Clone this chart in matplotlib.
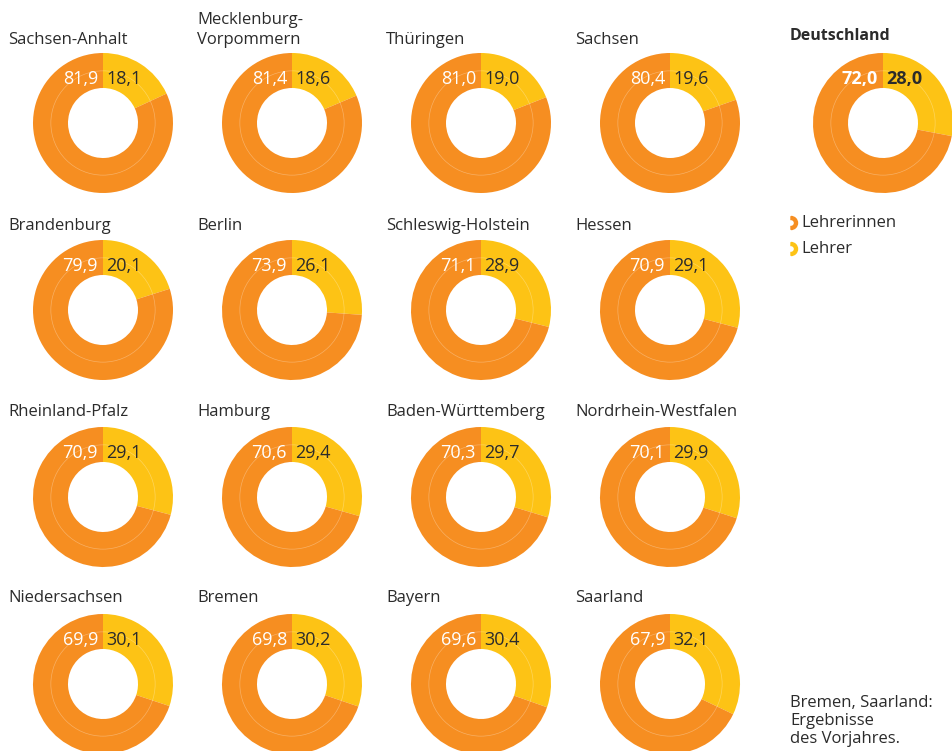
import matplotlib
matplotlib.use("Agg")
import matplotlib.pyplot as plt
from matplotlib.patches import Circle, Wedge

plt.rcParams['font.family'] = ['Open Sans', 'DejaVu Sans']

# Data
states = ["Sachsen-Anhalt", "Mecklenburg-\nVorpommern", "Thüringen", "Sachsen",
          "Brandenburg", "Berlin", "Schleswig-Holstein", "Hessen",
          "Rheinland-Pfalz", "Hamburg", "Baden-Württemberg", "Nordrhein-Westfalen",
          "Niedersachsen", "Bremen", "Bayern", "Saarland"]
lehrerinnen = [81.9, 81.4, 81.0, 80.4,
               79.9, 73.9, 71.1, 70.9,
               70.9, 70.6, 70.3, 70.1,
               69.9, 69.8, 69.6, 67.9]
lehrer = [18.1, 18.6, 19.0, 19.6,
          20.1, 26.1, 28.9, 29.1,
          29.1, 29.4, 29.7, 29.9,
          30.1, 30.2, 30.4, 32.1]
de_label = "Deutschland"
de_lehrerinnen = 72.0
de_lehrer = 28.0
legend_labels = ["Lehrerinnen", "Lehrer"]
note_lines = ["Bremen, Saarland:", "Ergebnisse", "des Vorjahres."]

ORANGE = "#F68E21"
YELLOW = "#FDC315"
DARK = "#2b2b2b"

W, H = 952, 751
fig = plt.figure(figsize=(W / 100, H / 100), dpi=100)
bg = fig.add_axes([0, 0, 1, 1])
bg.set_xlim(0, W)
bg.set_ylim(H, 0)
bg.axis('off')

R = 70  # outer radius in px


def fmt(v):
    return f"{v:.1f}".replace(".", ",")


def donut(cx, cy, a, b, bold=False):
    ax = fig.add_axes([(cx - R) / W, 1 - (cy + R) / H, 2 * R / W, 2 * R / H])
    ax.pie([b, a], colors=[YELLOW, ORANGE], startangle=90, counterclock=False,
           radius=1, wedgeprops=dict(width=0.5, edgecolor='none'))
    ax.add_patch(Circle((0, 0), 0.745, fill=False, edgecolor='white', lw=0.5, alpha=0.3))
    ax.set_xlim(-1, 1)
    ax.set_ylim(-1, 1)
    ax.set_aspect('equal')
    ax.axis('off')
    fw = 'bold' if bold else 'normal'
    ax.text(-0.07, 0.635, fmt(a), color='white', ha='right', va='center',
            fontsize=13, fontweight=fw)
    ax.text(0.05, 0.635, fmt(b), color=DARK, ha='left', va='center',
            fontsize=13, fontweight=fw)


col_cx = [103, 292, 481, 670]
row_cy = [123, 310, 497, 684]
title_x = [8, 197, 386, 575]
title_base = [44, 230, 416, 602]

for i, (s, a, b) in enumerate(zip(states, lehrerinnen, lehrer)):
    r, c = divmod(i, 4)
    donut(col_cx[c], row_cy[r], a, b)
    lines = s.split("\n")
    for k, ln in enumerate(lines):
        yb = title_base[r] - (len(lines) - 1 - k) * 20
        bg.text(title_x[c], yb, ln, ha='left', va='baseline',
                fontsize=12, color=DARK)

# Deutschland
donut(883, 123, de_lehrerinnen, de_lehrer, bold=True)
bg.text(790, 40, de_label, ha='left', va='baseline', fontsize=11.5,
        fontweight='bold', color=DARK)

# Legend
for j, (lab, colr) in enumerate(zip(legend_labels, [ORANGE, YELLOW])):
    y = 223 + j * 26
    bg.add_patch(Wedge((791, y), 6.5, -90, 90, width=3, color=colr))
    bg.text(801, y, lab, ha='left', va='center', fontsize=12, color=DARK)

for k, ln in enumerate(note_lines):
    bg.text(790, 707 + k * 18, ln, ha='left', va='baseline', fontsize=12, color=DARK)

fig.savefig("out.png", dpi=100)
